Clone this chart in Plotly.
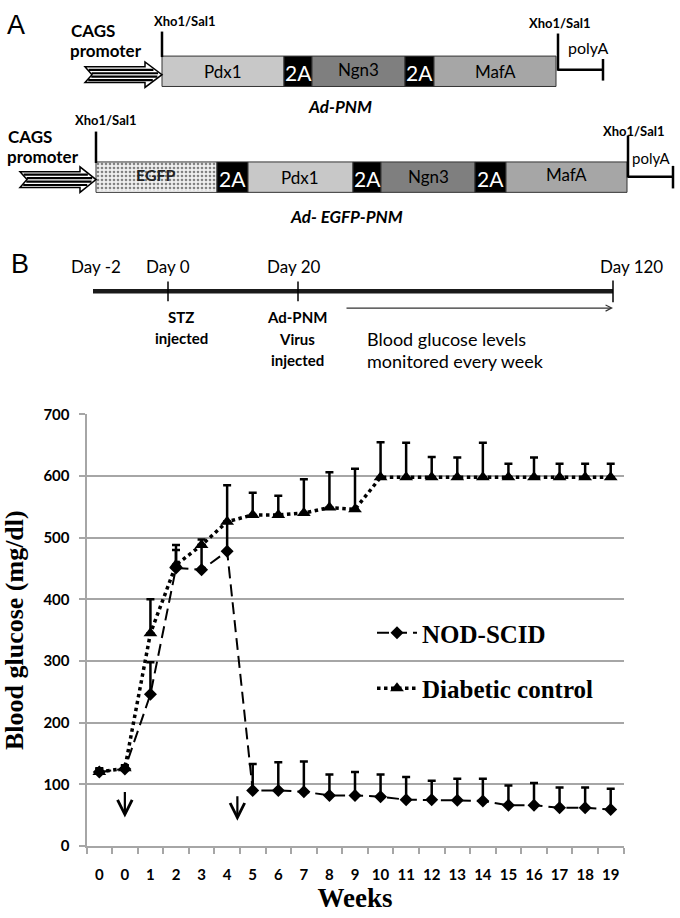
import plotly.graph_objects as go

# ---------------- data ----------------
week_labels = ["0", "0", "1", "2", "3", "4", "5", "6", "7", "8", "9", "10",
               "11", "12", "13", "14", "15", "16", "17", "18", "19"]
nod_scid = [120, 125, 246, 451, 448, 478, 90, 90, 88, 82, 82, 80, 75, 75, 74, 73, 66, 66, 62, 62, 59]
nod_scid_err = [5, 5, 52, 29, 40, 48, 43, 46, 49, 34, 38, 36, 37, 31, 35, 36, 32, 36, 33, 33, 34]
diabetic = [120, 126, 345, 456, 488, 526, 537, 537, 540, 549, 546, 598, 598, 598, 598, 598, 598, 598, 598, 598, 598]
diabetic_err = [6, 5, 55, 32, 9, 59, 36, 31, 55, 57, 66, 57, 56, 33, 32, 56, 22, 32, 22, 22, 22]
y_ticks = [0, 100, 200, 300, 400, 500, 600, 700]
# injection arrows: (category position, tail value, head value)
injections = [(1, 90, 46), (5.4, 83, 41)]

W, H = 680, 918
def X(px):
    return px / W
def Y(py):
    return 1 - py / H

idx = list(range(len(week_labels)))
fig = go.Figure()

fig.add_trace(go.Scatter(
    x=idx, y=nod_scid, name="<b>NOD-SCID</b>", mode="lines+markers",
    line=dict(color="black", width=2, dash="12px,6px"),
    marker=dict(symbol="diamond", size=10, color="black"),
    error_y=dict(type="data", symmetric=False, array=nod_scid_err,
                 arrayminus=[0] * len(nod_scid), color="black", thickness=2.5, width=4),
    legendgroup="a", hoverinfo="skip"))
fig.add_trace(go.Scatter(
    x=idx, y=diabetic, name="<b>Diabetic control</b>", mode="lines+markers",
    line=dict(color="black", width=3.5, dash="dot"),
    marker=dict(symbol="triangle-up", size=12, color="black"),
    error_y=dict(type="data", symmetric=False, array=diabetic_err,
                 arrayminus=[0] * len(diabetic), color="black", thickness=2.5, width=4),
    legendgroup="b", hoverinfo="skip"))

# EGFP dotted fill via patterned bar on helper axes
fig.add_trace(go.Bar(x=[0.5], y=[1], width=[1], xaxis="x2", yaxis="y2",
                     marker=dict(color="#f0f0f0", line=dict(width=0),
                                 pattern=dict(shape=".", fgcolor="#111", size=4, solidity=0.35)),
                     showlegend=False, hoverinfo="skip"))

grid = "#a6a6a6"
fig.update_layout(
    width=W, height=H, autosize=False,
    margin=dict(l=0, r=0, t=0, b=0),
    paper_bgcolor="white", plot_bgcolor="white",
    showlegend=True,
    legend=dict(x=X(372), y=Y(612), xanchor="left", yanchor="top",
                bgcolor="rgba(0,0,0,0)", tracegroupgap=20,
                font=dict(family="Liberation Serif", size=25, color="black"),
                itemwidth=40),
    xaxis=dict(domain=[X(86.5), X(623.5)], range=[-0.5, 20.5],
               tickmode="array", tickvals=idx, ticktext=week_labels,
               ticks="", showgrid=False, zeroline=False,
               showline=True, linecolor=grid, linewidth=2,
               tickfont=dict(family="Lato", size=15, color="black", weight="bold"),
               ticklabelstandoff=14,
               minor=dict(tick0=-0.5, dtick=1, ticks="outside", ticklen=6,
                          tickcolor=grid, tickwidth=2, showgrid=False),
               title=dict(text="<b>Weeks</b>", standoff=2,
                          font=dict(family="Liberation Serif", size=27, color="black"))),
    yaxis=dict(domain=[Y(852.7), Y(412.5)], range=[0, 700],
               tickmode="array", tickvals=y_ticks,
               showgrid=True, gridcolor=grid, gridwidth=2, zeroline=False,
               showline=True, linecolor=grid, linewidth=2,
               ticks="outside", ticklen=6, tickcolor=grid, tickwidth=2,
               ticklabelstandoff=6,
               tickfont=dict(family="Lato", size=15, color="black", weight="bold"),
               title=dict(text="<b>Blood glucose (mg/dl)</b>", standoff=22,
                          font=dict(family="Liberation Serif", size=26, color="black"))),
    xaxis2=dict(domain=[X(96), X(217)], range=[0, 1], visible=False, fixedrange=True),
    yaxis2=dict(domain=[Y(185), Y(155)], range=[0, 1], visible=False, fixedrange=True),
    bargap=0,
)

shapes = []
ann = []

def rect(x0, x1, y0, y1, fill, lw=1, lc="#333"):
    shapes.append(dict(type="rect", xref="paper", yref="paper",
                       x0=X(x0), x1=X(x1), y0=Y(y1), y1=Y(y0),
                       fillcolor=fill, line=dict(color=lc, width=lw), layer="above"))

def line(x0, y0, x1, y1, w=2.5, c="black"):
    shapes.append(dict(type="line", xref="paper", yref="paper",
                       x0=X(x0), y0=Y(y0), x1=X(x1), y1=Y(y1),
                       line=dict(color=c, width=w), layer="above"))

def text(t, x, y, size, xa="center", bold=False, italic=False, color="black", family="Lato"):
    s = t
    if bold:
        s = "<b>" + s + "</b>"
    if italic:
        s = "<i>" + s + "</i>"
    ann.append(dict(text=s, x=X(x), y=Y(y), xref="paper", yref="paper",
                    xanchor=xa, yanchor="middle", showarrow=False,
                    font=dict(family=family, size=size, color=color)))

def striped_arrow(xt, xhb, xtip, yc, bh=8, hh=13):
    notch = 7
    path = (f"M {X(xt)},{Y(yc-bh)} L {X(xhb)},{Y(yc-bh)} L {X(xhb)},{Y(yc-hh)} "
            f"L {X(xtip)},{Y(yc)} L {X(xhb)},{Y(yc+hh)} L {X(xhb)},{Y(yc+bh)} "
            f"L {X(xt)},{Y(yc+bh)} L {X(xt+notch)},{Y(yc)} Z")
    shapes.append(dict(type="path", xref="paper", yref="paper", path=path,
                       fillcolor="white", line=dict(color="black", width=1.5), layer="above"))
    for dy in (-5, -1.5, 2, 5.5):
        xs = xt + notch * (1 - abs(dy) / bh) + 1
        xe = xtip - (xtip - xhb) * abs(dy) / hh - 2
        line(xs, yc + dy, xe, yc + dy, w=2.2)

PDX, NGN, MAF, TWOA = "#c8c8c8", "#7f7f7f", "#a6a6a6", "black"

# ---------------- Panel A ----------------
text("A", 5, 15, 27, xa="left", family="Liberation Sans")
# construct 1
b1, b2 = 47, 78
rect(162, 284, b1, b2, PDX)
rect(284, 312, b1, b2, TWOA)
rect(312, 405, b1, b2, NGN)
rect(405, 434, b1, b2, TWOA)
rect(434, 556, b1, b2, MAF)
text("Pdx1", 223, 63, 17)
text("2A", 298, 64, 21, color="white")
text("Ngn3", 358, 61, 17)
text("2A", 419.5, 64, 21, color="white")
text("MafA", 495, 63, 17)
striped_arrow(85, 145, 162, 66)
line(162, 22, 162, 48)
line(558, 24, 558, 62)
line(558, 61, 603, 61)
line(603, 50, 603, 72)
text("Xho1/Sal1", 185, 11, 13, bold=True)
text("Xho1/Sal1", 560, 13, 13, bold=True)
text("polyA", 566, 38, 16, xa="left")
text("CAGS", 69, 21, 17, xa="left", bold=True)
text("promoter", 68, 41, 17, xa="left", bold=True)
text("Ad-PNM", 340, 98, 17, bold=True, italic=True)

# construct 2
c1, c2 = 155, 186
rect(96, 217, c1, c2, "rgba(0,0,0,0)")
rect(217, 248, c1, c2, TWOA)
rect(248, 353, c1, c2, PDX)
rect(353, 381, c1, c2, TWOA)
rect(381, 475, c1, c2, NGN)
rect(475, 506, c1, c2, TWOA)
rect(506, 627, c1, c2, MAF)
text("EGFP", 156, 168, 16, bold=True, color="#222")
text("2A", 232.5, 172, 21, color="white")
text("Pdx1", 300, 171, 17)
text("2A", 367, 172, 21, color="white")
text("Ngn3", 428, 170, 17)
text("2A", 490.5, 172, 21, color="white")
text("MafA", 566, 168, 17)
striped_arrow(20, 80, 96, 173)
line(96, 124, 96, 156)
line(628, 128, 628, 171)
line(628, 170, 673, 170)
line(673, 159, 673, 182)
text("Xho1/Sal1", 106, 112, 13, bold=True)
text("Xho1/Sal1", 667, 123, 13, xa="right", bold=True)
text("polyA", 630, 151, 15, xa="left")
text("CAGS", 6, 129, 17, xa="left", bold=True)
text("promoter", 5, 149, 17, xa="left", bold=True)
text("Ad- EGFP-PNM", 346, 211, 17, bold=True, italic=True)

# ---------------- Panel B timeline ----------------
text("B", 9, 259, 27, xa="left", family="Liberation Sans")
text("Day -2", 96, 262, 17)
text("Day 0", 168, 262, 17)
text("Day 20", 294, 262, 17)
text("Day 120", 665, 262, 17, xa="right")
line(93, 287, 613, 287, w=4.5, c="#1a1a1a")
line(168, 277, 168, 297, w=1.5)
line(298, 277, 298, 297, w=1.5)
line(613, 276, 613, 298, w=1.5)
ann.append(dict(x=X(613), y=Y(304), xref="paper", yref="paper",
                ax=-(613 - 345), ay=0, axref="pixel", ayref="pixel",
                text="", showarrow=True, arrowhead=5, arrowsize=1, arrowwidth=1.2,
                arrowcolor="#333"))
text("STZ", 181, 313, 15, bold=True)
text("injected", 181, 335, 15, bold=True)
text("Ad-PNM", 297, 313, 15, bold=True)
text("Virus", 297, 336, 15, bold=True)
text("injected", 297, 357, 15, bold=True)
text("Blood glucose levels", 365, 336, 18, xa="left")
text("monitored every week", 365, 358, 18, xa="left")

# injection arrows on chart
for xpos, ytail, yhead in injections:
    ann.append(dict(x=xpos, y=yhead, xref="x", yref="y",
                    ax=xpos, ay=ytail, axref="x", ayref="y",
                    text="", showarrow=True, arrowhead=5, arrowsize=1.3,
                    arrowwidth=2.2, arrowcolor="black"))

fig.update_layout(shapes=shapes, annotations=ann)
fig.write_html("out.html", config={"displayModeBar": False},
               post_script="document.body.style.margin='0';document.body.style.overflow='hidden';")
